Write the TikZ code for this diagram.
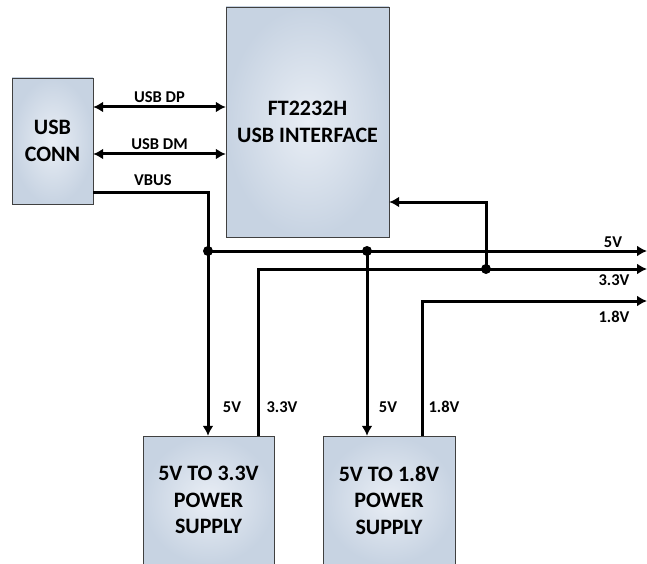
\documentclass[tikz,border=0pt]{standalone}
\usepackage{fontspec}
\setmainfont{Carlito}
\usepackage{xcolor}
\usetikzlibrary{arrows.meta,positioning}
\definecolor{boxin}{HTML}{E9EEF5}
\definecolor{boxout}{HTML}{C7D3E2}

\begin{document}
\begin{tikzpicture}[x=1pt, y=-1pt, every node/.style={font=\bfseries\fontsize{16.5}{19}\selectfont}]
\tikzstyle{blk}=[draw=black!75, inner color=boxin, outer color=boxout, align=center, inner sep=0pt, font=\bfseries\fontsize{22}{26.5}\selectfont]
\tikzstyle{wire}=[line width=3pt]
\tikzstyle{arr}=[wire, -{Latex[length=10pt, width=11pt]}]
\tikzstyle{dot}=[circle, fill=black, inner sep=0pt, minimum size=10pt]
\useasboundingbox (0,0) rectangle (647,564);
\node[blk, minimum width=81pt, minimum height=126pt] (conn) at (52.5,141) {USB\\CONN};
\node[blk, minimum width=163pt, minimum height=230pt] (ft) at (307.5,122) {FT2232H\\USB INTERFACE};
\node[blk, minimum width=131pt, minimum height=128pt] (ps33) at (208.5,500) {5V TO 3.3V\\POWER\\SUPPLY};
\node[blk, minimum width=132pt, minimum height=128pt] (ps18) at (389,500) {5V TO 1.8V\\POWER\\SUPPLY};
\coordinate (vb) at (93,192);
\node[dot] (j5a) at (208,251) {};
\node[dot] (j5b) at (367,251) {};
\node[dot] (j33) at (486,269) {};
\coordinate (out5) at (647,251);
\coordinate (out33) at (647,269);
\coordinate (out18) at (647,301);
\draw[wire, {Latex[length=10pt, width=11pt]}-{Latex[length=10pt, width=11pt]}] (conn.east |- 0,107) -- node[above] {USB DP} (ft.west |- 0,107);
\draw[wire, {Latex[length=10pt, width=11pt]}-{Latex[length=10pt, width=11pt]}] (conn.east |- 0,154) -- node[above] {USB DM} (ft.west |- 0,154);
\draw[wire] (vb) -| (j5a.center);
\node (vbus) at (153,180) {VBUS};
\draw[arr] (j5a.center) -- (ps33.north -| j5a);
\draw[arr] (j5a.center) -- (out5);
\draw[arr] (j5b.center) -- (ps18.north -| j5b);
\draw[arr] (ps33.north -| 258,0) |- (out33);
\draw[arr] (j33.center) |- (ft.east |- 0,202);
\draw[arr] (ps18.north -| 422,0) |- (out18);
\node (l5) at (613,242) {5V};
\node (l33) at (614,280) {3.3V};
\node (l18) at (614,317) {1.8V};
\node (in5a) at (232,407) {5V};
\node (in33) at (282,407) {3.3V};
\node (in5b) at (388,407) {5V};
\node (in18) at (444,407) {1.8V};
\end{tikzpicture}
\end{document}
